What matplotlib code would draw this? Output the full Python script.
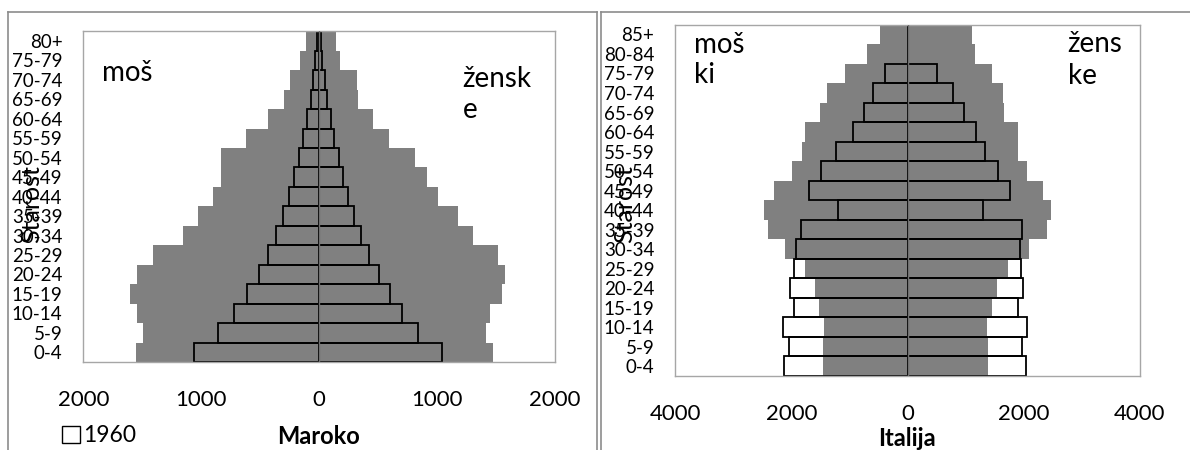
import matplotlib.pyplot as plt
from matplotlib.lines import Line2D
from matplotlib.patches import Patch

plt.rcParams['font.family'] = ['Lato', 'DejaVu Sans']

# Maroko, age groups from the youngest up
maroko_ages = ['0-4', '5-9', '10-14', '15-19', '20-24', '25-29', '30-34', '35-39', '40-44',
               '45-49', '50-54', '55-59', '60-64', '65-69', '70-74', '75-79', '80+']
maroko_m_now = [1553, 1491, 1542, 1604, 1542, 1412, 1152, 1025, 897, 830, 835, 620, 431, 298, 247, 163, 112]
maroko_f_now = [1477, 1414, 1449, 1547, 1575, 1519, 1307, 1180, 1011, 917, 813, 595, 454, 332, 318, 177, 143]
maroko_m_1960 = [1059, 855, 722, 615, 513, 431, 363, 304, 253, 211, 171, 134, 100, 69, 49, 32, 21]
maroko_f_1960 = [1039, 835, 705, 604, 507, 425, 355, 295, 245, 205, 168, 129, 98, 69, 49, 24, 13]
maroko_xticks = [-2000, -1000, 0, 1000, 2000]

# Italija
italija_ages = ['0-4', '5-9', '10-14', '15-19', '20-24', '25-29', '30-34', '35-39', '40-44',
                '45-49', '50-54', '55-59', '60-64', '65-69', '70-74', '75-79', '80-84', '85+']
italija_m_now = [1465, 1465, 1448, 1534, 1602, 1775, 2119, 2405, 2480, 2308, 1992, 1820, 1775, 1505,
                 1390, 1075, 702, 473]
italija_f_now = [1379, 1379, 1362, 1448, 1534, 1735, 2090, 2394, 2469, 2337, 2050, 1906, 1906, 1666,
                 1649, 1459, 1161, 1104]
italija_m_1960 = [2136, 2044, 2153, 1964, 2027, 1952, 1918, 1843, 1207, 1694, 1488, 1230, 949, 748,
                  588, 387, 0, 0]
italija_f_1960 = [2044, 1964, 2056, 1895, 1981, 1947, 1935, 1964, 1293, 1763, 1551, 1333, 1173, 978,
                  777, 513, 0, 0]
italija_xticks = [-4000, -2000, 0, 2000, 4000]

W, H = 1190, 450
fig = plt.figure(figsize=(W / 100, H / 100), dpi=100)


def fx(px):
    return px / W


def fy(py):
    return 1 - py / H


def pyramid(ax, ages, m_now, f_now, m_old, f_old, xticks):
    y = list(range(len(ages)))
    ax.barh(y, [-v for v in m_now], height=1.0, color='#808080', lw=0, zorder=1)
    ax.barh(y, f_now, height=1.0, color='#808080', lw=0, zorder=1)
    ax.barh(y, [-v for v in m_old], height=1.0, facecolor='none', edgecolor='black', lw=1.3, zorder=2)
    ax.barh(y, f_old, height=1.0, facecolor='none', edgecolor='black', lw=1.3, zorder=2)
    ax.axvline(0, color='#6f6f6f', lw=1.0, zorder=3)
    ax.set_xlim(xticks[0], xticks[-1])
    ax.set_ylim(-0.5, len(ages) - 0.5)
    ax.set_yticks(y)
    ax.set_yticklabels(ages, fontsize=13.5)
    ax.set_xticks(xticks)
    ax.set_xticklabels([str(abs(v)) for v in xticks], fontsize=16)
    ax.tick_params(axis='x', length=0, pad=20)
    ax.tick_params(axis='y', length=0, pad=15)
    for s in ax.spines.values():
        s.set_color('#a6a6a6')
        s.set_linewidth(1.0)


ax1 = fig.add_axes([fx(83.3), fy(362), fx(555 - 83.3), (362 - 31.3) / H])
pyramid(ax1, maroko_ages, maroko_m_now, maroko_f_now, maroko_m_1960, maroko_f_1960, maroko_xticks)
ax1.text(0.04, 0.85, 'moš', transform=ax1.transAxes, fontsize=20, va='baseline')
ax1.text(0.804, (362 - 118) / 330.7, 'žensk\ne', transform=ax1.transAxes, fontsize=20,
         va='baseline', linespacing=1.25)

ax2 = fig.add_axes([fx(675.3), fy(376), fx(1140 - 675.3), (376 - 24.7) / H])
pyramid(ax2, italija_ages, italija_m_now, italija_f_now, italija_m_1960, italija_f_1960, italija_xticks)
ax2.text(0.04, (376 - 83) / 351.3, 'moš\nki', transform=ax2.transAxes, fontsize=20,
         va='baseline', linespacing=1.2)
ax2.text(0.8444, (376 - 83.7) / 351.3, 'žens\nke', transform=ax2.transAxes, fontsize=20,
         va='baseline', linespacing=1.25)

# axis titles
fig.text(fx(32), fy(204), 'Starost', rotation=90, ha='center', va='center', fontsize=18)
fig.text(fx(625), fy(204), 'Starost', rotation=90, ha='center', va='center', fontsize=18)
fig.text(fx(318.5), fy(437), 'Maroko', ha='center', va='center', fontsize=17, fontweight='bold')
fig.text(fx(907), fy(438), 'Italija', ha='center', va='center', fontsize=17, fontweight='bold')

# legend: only the 1960 entry is visible
fig.legend(handles=[Patch(facecolor='white', edgecolor='black', lw=1.0)], labels=['1960'],
           loc='center left', bbox_to_anchor=(fx(51), fy(436)), frameon=False, fontsize=16.5,
           handlelength=0.75, handleheight=0.75, handletextpad=0.15, borderpad=0)

# chart frames
frame = '#8c8c8c'
for (x0, y0, x1, y1) in [(8, 12, 597, 12), (8, 12, 8, 450), (597, 12, 597, 450),
                         (601, 12, 1190, 12), (601, 12, 601, 450)]:
    fig.add_artist(Line2D([fx(x0), fx(x1)], [fy(y0), fy(y1)], color=frame, lw=1.2))

fig.savefig('out.png', dpi=100)
